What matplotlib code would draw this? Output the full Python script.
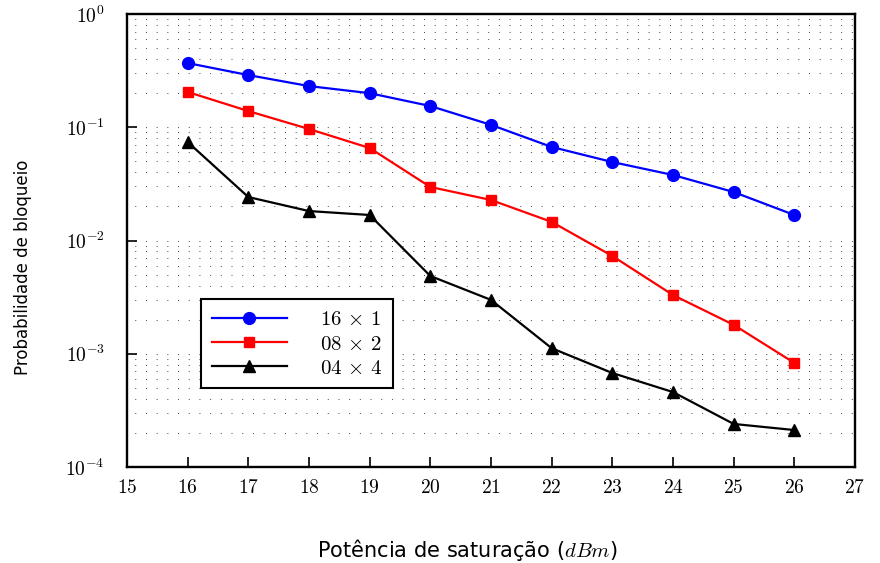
import numpy as np
import matplotlib
matplotlib.use('Agg')
import matplotlib.pyplot as plt
from matplotlib.ticker import LogLocator, NullFormatter

plt.rcParams['mathtext.fontset'] = 'cm'
plt.rcParams['font.family'] = ['DejaVu Sans']

# potência de saturação (dBm)
potencia = [16, 17, 18, 19, 20, 21, 22, 23, 24, 25, 26]

# probabilidade de bloqueio por configuração
prob_16x1 = [0.369, 0.289, 0.231, 0.200, 0.154, 0.105, 0.067, 0.0493, 0.0379, 0.0268, 0.0168]
prob_08x2 = [0.205, 0.139, 0.0965, 0.0656, 0.0297, 0.0228, 0.0146, 0.0073, 0.0033, 0.00180, 0.00083]
prob_04x4 = [0.0741, 0.0242, 0.0182, 0.0168, 0.00486, 0.00299, 0.00112, 0.000676, 0.000459, 0.000240, 0.000212]

labels = [r'$16\,\times\,1$', r'$08\,\times\,2$', r'$04\,\times\,4$']
x_ticks = list(range(15, 28))
y_exps = [0, -1, -2, -3, -4]

fig = plt.figure(figsize=(8.8, 5.63), dpi=100)
ax = fig.add_axes([0.1443, 0.1705, 0.8273, 0.8046])

ax.plot(potencia, prob_16x1, color='blue', marker='o', markersize=8.5, lw=1.6, label=labels[0], zorder=3)
ax.plot(potencia, prob_08x2, color='red', marker='s', markersize=7.5, lw=1.6, label=labels[1], zorder=3)
ax.plot(potencia, prob_04x4, color='black', marker='^', markersize=8.5, lw=1.6, label=labels[2], zorder=3)

ax.set_yscale('log')
ax.set_xlim(15, 27)
ax.set_ylim(1e-4, 1)

ax.set_xticks(x_ticks)
ax.set_xticklabels([r'$%d$' % t for t in x_ticks], fontsize=14)
ax.set_yticks([10.0 ** e for e in y_exps])
ax.set_yticklabels([r'$10^{%d}$' % e for e in y_exps], fontsize=14)
ax.yaxis.set_minor_locator(LogLocator(base=10, subs=np.arange(2, 10)))
ax.yaxis.set_minor_formatter(NullFormatter())
ax.tick_params(axis='y', which='minor', length=0)
ax.tick_params(which='major', direction='in', length=7, width=1.2, top=False, right=False,
               color='black')
ax.tick_params(axis='y', pad=16)
ax.tick_params(axis='x', pad=8)

# grade pontilhada só na horizontal
ax.yaxis.grid(True, which='both', linestyle=(3, (1, 10)), color='#444444', lw=0.7)
ax.xaxis.grid(False)

for s in ax.spines.values():
    s.set_linewidth(1.7)
    s.set_zorder(4)

ax.set_xlabel(r'Potência de saturação ($dBm$)', fontsize=15)
ax.xaxis.set_label_coords(0.468, -0.155)
ax.set_ylabel('Probabilidade de bloqueio', fontsize=12)
ax.yaxis.set_label_coords(-0.13, 0.44)

leg = ax.legend(loc='lower left', bbox_to_anchor=(0.102, 0.174), fontsize=15,
                fancybox=False, edgecolor='black', framealpha=1,
                handlelength=3.6, handletextpad=1.6, borderpad=0.5,
                labelspacing=0.2, borderaxespad=0)
leg.get_frame().set_linewidth(1.5)

fig.savefig('out.png', dpi=100)
